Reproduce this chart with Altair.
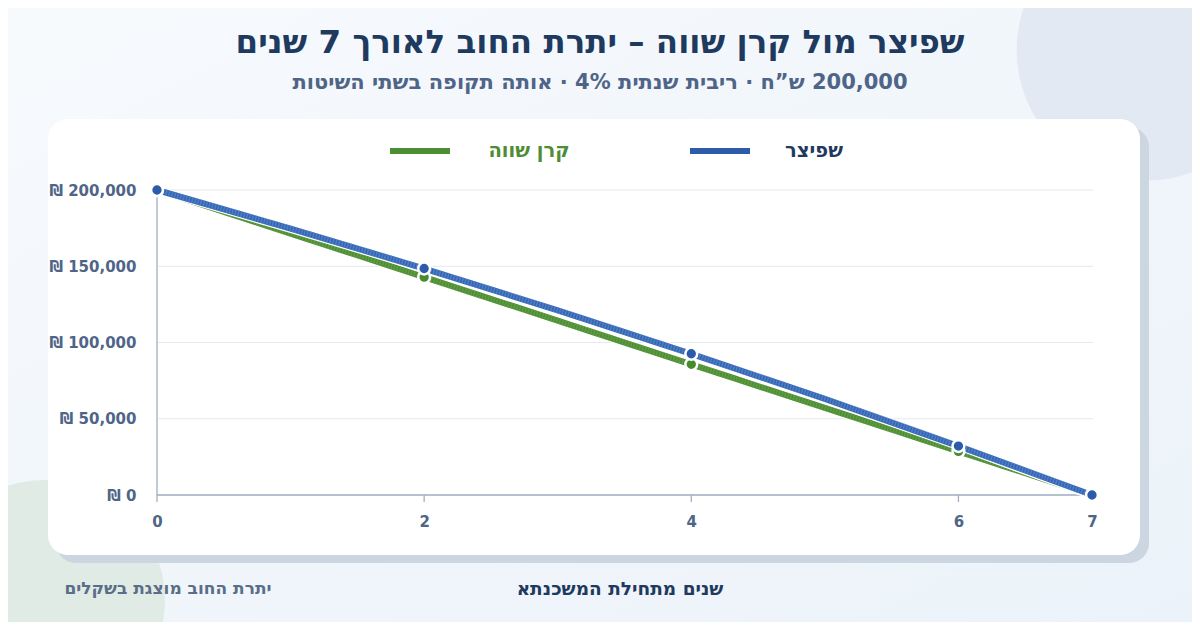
import altair as alt
import pandas as pd

# yearly balances (ILS)
years = [0, 1, 2, 3, 4, 5, 6, 7]
spitzer = [200000, 174700, 148500, 121100, 92600, 63000, 32100, 0]
keren_shava = [200000, 171400, 142900, 114300, 85700, 57100, 28600, 0]
marker_years = [0, 2, 4, 6, 7]
y_ticks = [0, 50000, 100000, 150000, 200000]
x_ticks = [0, 2, 4, 6, 7]
series_names = ["שפיצר", "קרן שווה"]

FONT = "'DejaVu Sans', sans-serif"
NAVY = "#1f3a5f"
SLATE = "#4f6587"
BLUE = "#3565b1"
BLUE_DOT = "#2c5ca9"
GREEN = "#4d8d33"
GREEN_DOT = "#4a8a2e"

W, H = 935, 305


def rtl(s):
    return "\u202b" + s + "\u202c"


df = pd.DataFrame({
    "year": years * 2,
    "balance": spitzer + keren_shava,
    "series": [series_names[0]] * len(years) + [series_names[1]] * len(years),
})

one = alt.Data(values=[{}])

x_scale = alt.Scale(domain=[0, 7], nice=False)
y_scale = alt.Scale(domain=[0, 200000], nice=False)
x_axis = alt.Axis(values=x_ticks, title=None, grid=False, domain=False, ticks=False,
                  labelFlush=False, labelPadding=19, labelFontSize=15,
                  labelFontWeight="bold", labelColor=SLATE, labelFont=FONT, zindex=1)
y_axis = alt.Axis(values=y_ticks, title=None, grid=False, domain=False, ticks=False,
                  labelPadding=21, labelFontSize=15, labelFontWeight="bold",
                  labelColor=SLATE, labelFont=FONT,
                  labelExpr="'₪ ' + format(datum.value, ',')", zindex=1)

bg = alt.Chart(one).mark_rect(
    color=alt.Gradient(
        gradient="linear",
        stops=[alt.GradientStop(color="#f7fafd", offset=0),
               alt.GradientStop(color="#ebf2f9", offset=1)],
        x1=0, y1=0, x2=1, y2=1,
    )
).encode(x=alt.value(-160), x2=alt.value(1050), y=alt.value(-190), y2=alt.value(440))

# vega circle size is the square of the diameter
blob_top = alt.Chart(one).mark_circle(color="#e2e9f3", opacity=1, size=68000).encode(
    x=alt.value(990), y=alt.value(-140))
blob_bottom = alt.Chart(one).mark_circle(color="#e0ebe5", opacity=1, size=57600).encode(
    x=alt.value(-112), y=alt.value(410))

shadow = alt.Chart(one).mark_rect(color="#ccd6e0", cornerRadius=20).encode(
    x=alt.value(-101), x2=alt.value(992), y=alt.value(-63), y2=alt.value(373))
card = alt.Chart(one).mark_rect(color="white", cornerRadius=20).encode(
    x=alt.value(-109), x2=alt.value(983), y=alt.value(-71), y2=alt.value(365))

grid = alt.Chart(pd.DataFrame({"v": y_ticks})).mark_rule(
    color="#e2e9f0", strokeWidth=1.2
).encode(y=alt.Y("v:Q", scale=y_scale, axis=y_axis), x=alt.value(0), x2=alt.value(W + 1))

x_domain = alt.Chart(one).mark_rule(color="#9fb0c5", strokeWidth=1.3).encode(
    x=alt.value(0), x2=alt.value(W), y=alt.value(H))
y_domain = alt.Chart(one).mark_rule(color="#9fb0c5", strokeWidth=1.3).encode(
    x=alt.value(0), y=alt.value(0), y2=alt.value(H))
x_tick_marks = alt.Chart(pd.DataFrame({"t": [0, 2, 4, 6]})).mark_rule(
    color="#9fb0c5", strokeWidth=1.3
).encode(x=alt.X("t:Q", scale=x_scale, axis=x_axis), y=alt.value(H), y2=alt.value(H + 7))


def series_layers(name, line_color, dot_color, stripe_color):
    d = df[df["series"] == name]
    base = alt.Chart(d).encode(
        x=alt.X("year:Q", scale=x_scale, axis=x_axis),
        y=alt.Y("balance:Q", scale=y_scale, axis=y_axis),
    )
    halo = base.mark_line(color="white", strokeWidth=8.5, interpolate="monotone")
    line = base.mark_line(color=line_color, strokeWidth=6, interpolate="monotone")
    stripes = base.mark_line(color=stripe_color, strokeWidth=6, strokeDash=[1.5, 1.5],
                             opacity=0.6, interpolate="monotone")
    dots = alt.Chart(d[d["year"].isin(marker_years)]).mark_point(
        filled=True, shape="circle", size=140, color=dot_color, stroke="white",
        strokeWidth=2.5, opacity=1
    ).encode(x=alt.X("year:Q", scale=x_scale, axis=x_axis),
             y=alt.Y("balance:Q", scale=y_scale, axis=y_axis))
    return [halo, line, stripes], dots


green_lines, green_dots = series_layers(series_names[1], GREEN, GREEN_DOT, "#6aa84f")
blue_lines, blue_dots = series_layers(series_names[0], BLUE, BLUE_DOT, "#5f8fd6")


def label(text, x, y, size, color, weight="bold", align="center"):
    return alt.Chart(one).mark_text(
        text=rtl(text), font=FONT, fontSize=size, fontWeight=weight, color=color,
        align=align, baseline="middle"
    ).encode(x=alt.value(x), y=alt.value(y))


def key(x1, x2, y, color):
    return alt.Chart(one).mark_rule(color=color, strokeWidth=6).encode(
        x=alt.value(x1), x2=alt.value(x2), y=alt.value(y))


title = label("שפיצר מול קרן שווה – יתרת החוב לאורך 7 שנים", 443, -147, 32.5, NAVY)
subtitle = label("200,000 ש”ח · ריבית שנתית 4% · אותה תקופה בשתי השיטות", 443, -107, 21, SLATE)
leg_blue_text = label(series_names[0], 657, -39, 19.5, NAVY)
leg_green_text = label(series_names[1], 372, -39, 19.5, GREEN)
leg_blue_key = key(533, 593, -39, BLUE_DOT)
leg_green_key = key(233, 293, -39, GREEN)
x_title = label("שנים מתחילת המשכנתא", 463, 399, 18.5, NAVY)
note = label("יתרת החוב מוצגת בשקלים", 11, 399, 17, "#5a6e88")

chart = alt.layer(
    bg, blob_top, blob_bottom, shadow, card, grid, x_domain, y_domain, x_tick_marks,
    *green_lines, *blue_lines, green_dots, blue_dots,
    title, subtitle, leg_blue_key, leg_green_key, leg_blue_text, leg_green_text,
    x_title, note,
).properties(
    width=W, height=H,
    autosize=alt.AutoSizeParams(type="none"),
    padding={"left": 149, "top": 182, "right": 100, "bottom": 127},
    background="#f2f6fb",
).configure_view(stroke=None)

chart.save("out.html", embed_options={"renderer": "svg", "actions": False})
